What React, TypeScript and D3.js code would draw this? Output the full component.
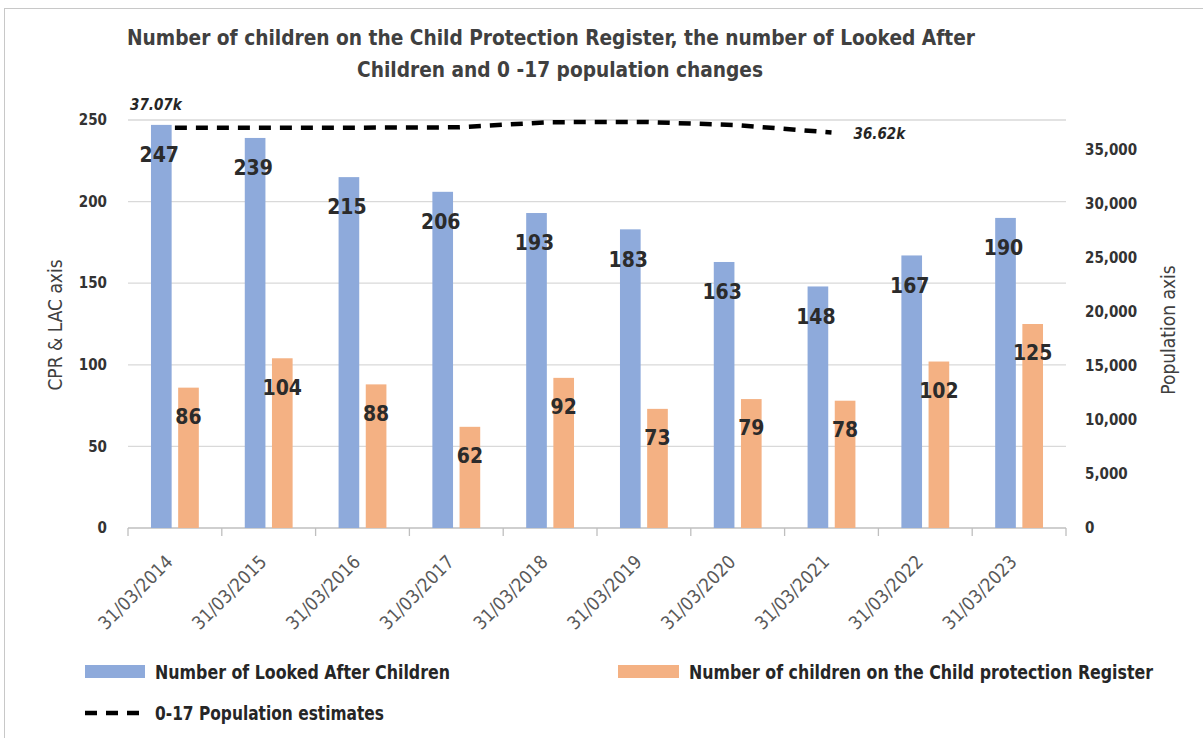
import React from "react";
import * as d3 from "d3";

// dates of the snapshots
const dates = [
  "31/03/2014", "31/03/2015", "31/03/2016", "31/03/2017", "31/03/2018",
  "31/03/2019", "31/03/2020", "31/03/2021", "31/03/2022", "31/03/2023",
];
const lacValues = [247, 239, 215, 206, 193, 183, 163, 148, 167, 190];
const cprValues = [86, 104, 88, 62, 92, 73, 79, 78, 102, 125];
// population estimates only run to 2021
const popDates = dates.slice(0, 8);
const popValues = [37070, 37060, 37070, 37100, 37580, 37600, 37300, 36620];
const leftTicks = [0, 50, 100, 150, 200, 250];
const rightTicks = [0, 5000, 10000, 15000, 20000, 25000, 30000, 35000];

const FONT = "'Liberation Sans Narrow', 'DejaVu Sans Condensed', 'Liberation Sans', sans-serif";
const BLUE = "#8eaadb";
const ORANGE = "#f4b183";

const App: React.FC = () => {
  const W = 1203;
  const H = 738;
  const left = 128, right = 1066, top = 120, bottom = 528;

  const x = d3.scaleBand<string>().domain(dates).range([left, right]);
  const bw = x.bandwidth();
  const inner = d3.scaleBand<string>()
    .domain(["lac", "cpr"])
    .range([bw * 0.245, bw * 0.755])
    .paddingInner(0.24);
  const yL = d3.scaleLinear().domain([0, 250]).range([bottom, top]);
  const yR = d3.scaleLinear().domain([0, 37780]).range([bottom, top]);

  const popLine = d3.line<number>()
    .x((_, i) => (x(popDates[i]) ?? 0) + bw / 2)
    .y((d) => yR(d));

  const fmt = d3.format(",");
  const labelColor = "#2b2b2b";

  return (
    <div style={{ position: "fixed", left: 0, top: 0 }}>
      <svg width={W} height={H} style={{ display: "block", background: "#fff" }}>
        {/* chart frame */}
        <rect x={4.5} y={8.5} width={W + 10} height={H + 10} fill="#fff" stroke="#c8c8c8" />

        {/* title */}
        <text x={551} y={45} textAnchor="middle" fontFamily={FONT} fontSize={21} fontWeight="bold"
          fill="#404040" textLength={848} lengthAdjust="spacingAndGlyphs">
          Number of children on the Child Protection Register, the number of Looked After
        </text>
        <text x={560} y={77} textAnchor="middle" fontFamily={FONT} fontSize={21} fontWeight="bold"
          fill="#404040" textLength={406} lengthAdjust="spacingAndGlyphs">
          Children and 0 -17 population changes
        </text>

        {/* gridlines */}
        {leftTicks.map((t) => (
          <line key={t} x1={left} x2={right} y1={yL(t)} y2={yL(t)}
            stroke={t === 0 ? "#bfbfbf" : "#d9d9d9"} strokeWidth={1.3} />
        ))}
        {/* category ticks */}
        {dates.concat(["end"]).map((d, i) => {
          const xx = left + i * bw;
          return <line key={d} x1={xx} x2={xx} y1={bottom} y2={bottom + 8} stroke="#bfbfbf" strokeWidth={1.3} />;
        })}

        {/* left axis labels */}
        {leftTicks.map((t) => (
          <text key={t} x={107} y={yL(t)} dy="0.35em" textAnchor="end" fontFamily={FONT}
            fontSize={15} fontWeight="bold" fill="#333">{t}</text>
        ))}
        {/* right axis labels */}
        {rightTicks.map((t) => (
          <text key={t} x={1085} y={yR(t)} dy="0.35em" textAnchor="start" fontFamily={FONT}
            fontSize={15} fontWeight="bold" fill="#333">{fmt(t)}</text>
        ))}

        {/* axis titles */}
        <text transform="translate(62,325) rotate(-90)" textAnchor="middle" fontFamily={FONT}
          fontSize={19} fill="#404040">CPR &amp; LAC axis</text>
        <text transform="translate(1175,330) rotate(-90)" textAnchor="middle" fontFamily={FONT}
          fontSize={19} fill="#404040">Population axis</text>

        {/* bars */}
        {dates.map((d, i) => {
          const x0 = x(d) ?? 0;
          const lx = x0 + (inner("lac") ?? 0);
          const cx = x0 + (inner("cpr") ?? 0);
          const ib = inner.bandwidth();
          return (
            <g key={d}>
              <rect x={lx} y={yL(lacValues[i])} width={ib} height={bottom - yL(lacValues[i])} fill={BLUE} />
              <rect x={cx} y={yL(cprValues[i])} width={ib} height={bottom - yL(cprValues[i])} fill={ORANGE} />
            </g>
          );
        })}

        {/* population line */}
        <path d={popLine(popValues) ?? ""} fill="none" stroke="#000" strokeWidth={4.5}
          strokeDasharray="12 9" />
        <text x={130} y={110} fontFamily={FONT} fontSize={15} fontWeight="bold" fontStyle="italic"
          fill="#262626">{(popValues[0] / 1000).toFixed(2)}k</text>
        <text x={(x(popDates[7]) ?? 0) + bw / 2 + 22} y={yR(popValues[7]) + 6} fontFamily={FONT}
          fontSize={15} fontWeight="bold" fontStyle="italic" fill="#262626">
          {(popValues[7] / 1000).toFixed(2)}k
        </text>

        {/* value labels */}
        {dates.map((d, i) => {
          const x0 = x(d) ?? 0;
          const ib = inner.bandwidth();
          const lx = x0 + (inner("lac") ?? 0) + ib / 2;
          const cx = x0 + (inner("cpr") ?? 0) + ib / 2;
          return (
            <g key={d} fontFamily={FONT} fontSize={21} fontWeight="bold" fill={labelColor} textAnchor="middle">
              <text x={lx - 2} y={yL(lacValues[i]) + 30} dy="0.35em">{lacValues[i]}</text>
              <text x={cx} y={yL(cprValues[i]) + 29} dy="0.35em">{cprValues[i]}</text>
            </g>
          );
        })}

        {/* x labels */}
        {dates.map((d) => {
          const cx = (x(d) ?? 0) + bw / 2;
          return (
            <text key={d} transform={`translate(${cx - 1},${563}) rotate(-45)`} textAnchor="end"
              fontFamily={FONT} fontSize={18.5} fill="#595959">{d}</text>
          );
        })}

        {/* legend */}
        <rect x={85} y={665} width={60} height={13} fill={BLUE} />
        <text x={155} y={672} dy="0.35em" fontFamily={FONT} fontSize={19} fontWeight="bold" fill="#262626"
          textLength={295} lengthAdjust="spacingAndGlyphs">Number of Looked After Children</text>
        <rect x={618} y={665} width={61} height={13} fill={ORANGE} />
        <text x={689} y={672} dy="0.35em" fontFamily={FONT} fontSize={19} fontWeight="bold" fill="#262626"
          textLength={464} lengthAdjust="spacingAndGlyphs">Number of children on the Child protection Register</text>
        <line x1={85} x2={145} y1={713} y2={713} stroke="#000" strokeWidth={4.5} strokeDasharray="12 9" />
        <text x={155} y={713} dy="0.35em" fontFamily={FONT} fontSize={19} fontWeight="bold" fill="#262626"
          textLength={229} lengthAdjust="spacingAndGlyphs">0-17 Population estimates</text>
      </svg>
    </div>
  );
};

export default App;
